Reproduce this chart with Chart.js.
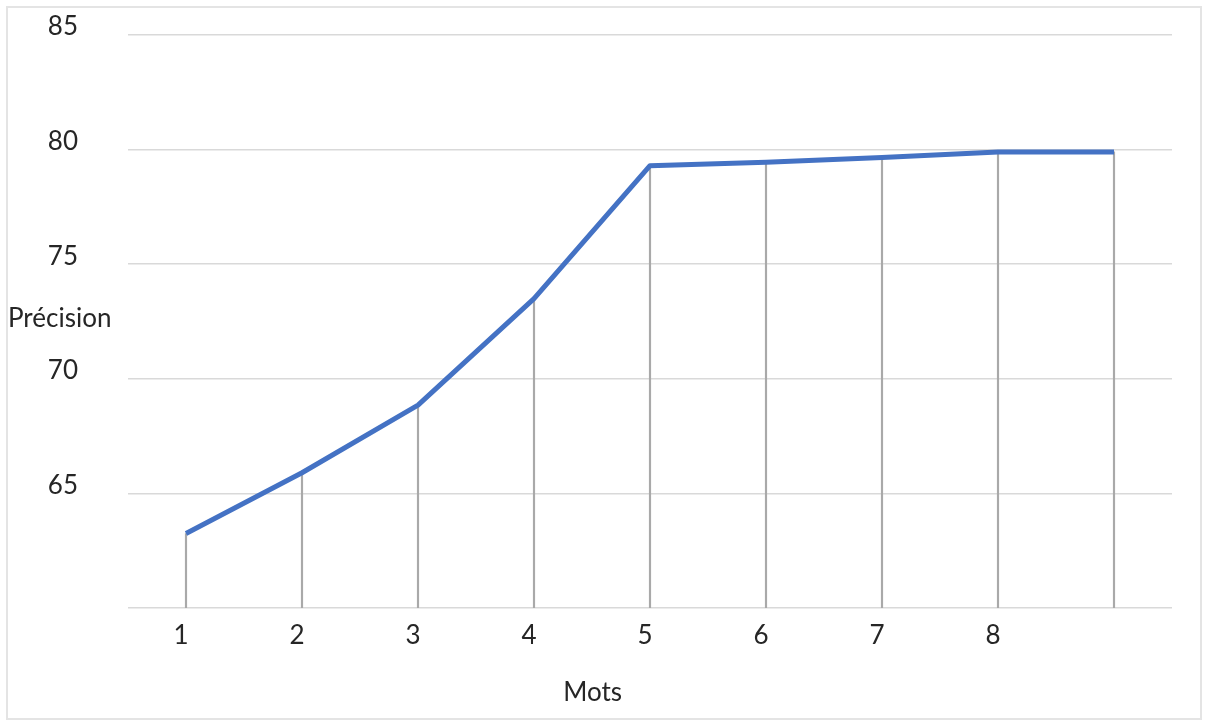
<!DOCTYPE html>
<html lang="fr">
<head>
<meta charset="utf-8">
<title>Précision selon le nombre de mots</title>
<script src="https://cdn.jsdelivr.net/npm/chart.js@4"></script>
<style>
    html, body { margin: 0; padding: 0; background: #fff; }
    #wrap { position: relative; width: 1206px; height: 722px; }
    #chart { position: absolute; left: 0; top: 0; }
    #frame {
        position: absolute; left: 6px; top: 6px;
        width: 1192px; height: 710px;
        border: 2px solid #e4e4e4;
        pointer-events: none;
    }
</style>
</head>
<body>
<div id="wrap">
    <canvas id="chart" width="1206" height="722"></canvas>
    <div id="frame"></div>
</div>
<script>
    // ========== Data ==========
    const mots = ['1', '2', '3', '4', '5', '6', '7', '8', ''];
    const precision = [63.25, 65.9, 68.85, 73.5, 79.3, 79.45, 79.65, 79.9, 79.9];
    const yTicks = [60, 65, 70, 75, 80, 85];

    const textColor = '#262626';
    const fontFamily = 'Lato, "Open Sans", sans-serif';

    // axis titles are plain text placed beside the plot area
    const axisTitles = {
        id: 'axisTitles',
        afterDraw(chart) {
            const { ctx, chartArea } = chart;
            ctx.save();
            ctx.fillStyle = textColor;
            ctx.font = '26px ' + fontFamily;
            ctx.textBaseline = 'middle';

            ctx.textAlign = 'left';
            const yTitleY = chartArea.top + (chartArea.bottom - chartArea.top) * 0.495;
            ctx.fillText('Précision', 8, yTitleY);

            ctx.textAlign = 'center';
            const xTitleX = chartArea.left + (chartArea.right - chartArea.left) * 0.445;
            ctx.fillText('Mots', xTitleX, chartArea.bottom + 85);
            ctx.restore();
        }
    };

    const ctx = document.getElementById('chart').getContext('2d');
    new Chart(ctx, {
        data: {
            labels: mots,
            datasets: [
                {
                    type: 'line',
                    label: 'Précision',
                    data: precision,
                    borderColor: '#4472c4',
                    borderWidth: 5,
                    pointRadius: 0,
                    tension: 0,
                    borderJoinStyle: 'round',
                    borderCapStyle: 'butt',
                    clip: false,
                    order: 0
                },
                {
                    // thin bars act as drop lines from each point to the baseline
                    type: 'bar',
                    label: 'drop',
                    data: precision,
                    backgroundColor: '#a9a9a9',
                    barThickness: 1.5,
                    order: 1
                }
            ]
        },
        options: {
            responsive: false,
            animation: false,
            devicePixelRatio: 1,
            layout: { padding: { top: 35, right: 34, bottom: 0, left: 0 } },
            plugins: {
                legend: { display: false },
                tooltip: { enabled: false }
            },
            scales: {
                x: {
                    type: 'category',
                    offset: true,
                    grid: { display: false, drawTicks: false, tickLength: 0 },
                    border: { display: false },
                    ticks: {
                        color: textColor,
                        font: { family: fontFamily, size: 26 },
                        padding: 12,
                        labelOffset: -5,
                        maxRotation: 0,
                        autoSkip: false
                    },
                    afterFit(scale) { scale.height = 114; }
                },
                y: {
                    min: yTicks[0],
                    max: yTicks[yTicks.length - 1],
                    afterBuildTicks(scale) {
                        scale.ticks = yTicks.map(v => ({ value: v }));
                    },
                    grid: {
                        color: '#d9d9d9',
                        lineWidth: 1.5,
                        drawTicks: false
                    },
                    border: { display: false },
                    ticks: {
                        color: textColor,
                        font: { family: fontFamily, size: 26 },
                        padding: 50,
                        labelOffset: -8,
                        callback: v => (v === yTicks[0] ? '' : v)
                    },
                    afterFit(scale) {
                        // the wide label gap should not push the plot down
                        scale.width = 128;
                        scale.paddingTop = 0;
                        scale.paddingBottom = 0;
                    }
                }
            }
        },
        plugins: [axisTitles]
    });
</script>
</body>
</html>
